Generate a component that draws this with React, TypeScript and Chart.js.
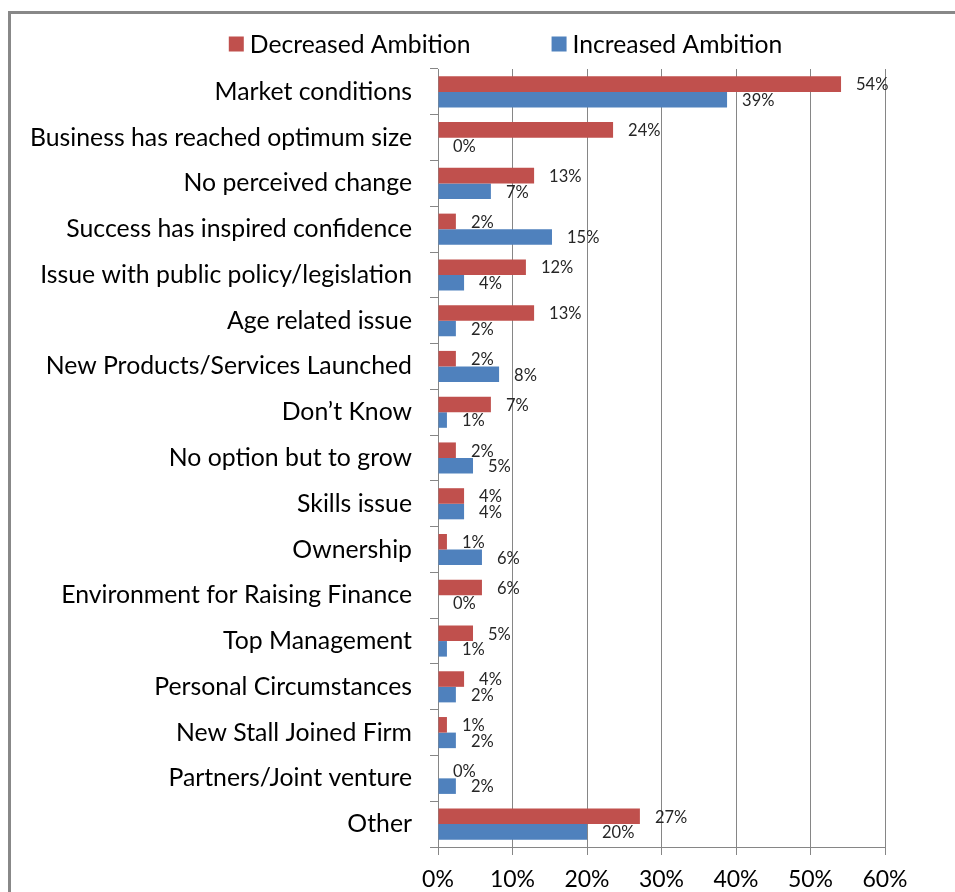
import React, { useEffect, useRef } from "react";
import { Chart, registerables } from "chart.js";

Chart.register(...registerables);

const categories: string[] = [
  "Market conditions",
  "Business has reached optimum size",
  "No perceived change",
  "Success has inspired confidence",
  "Issue with public policy/legislation",
  "Age related issue",
  "New Products/Services Launched",
  "Don\u2019t Know",
  "No option but to grow",
  "Skills issue",
  "Ownership",
  "Environment for Raising Finance",
  "Top Management",
  "Personal Circumstances",
  "New Stall Joined Firm",
  "Partners/Joint venture",
  "Other",
];

const decreasedAmbition: number[] = [54.1, 23.5, 12.9, 2.4, 11.8, 12.9, 2.4, 7.1, 2.4, 3.5, 1.2, 5.9, 4.7, 3.5, 1.2, 0, 27.1];
const increasedAmbition: number[] = [38.8, 0, 7.1, 15.3, 3.5, 2.4, 8.2, 1.2, 4.7, 3.5, 5.9, 0, 1.2, 2.4, 2.4, 2.4, 20.0];

const seriesNames: string[] = ["Decreased Ambition", "Increased Ambition"];
const seriesColors: string[] = ["#C0504D", "#4F81BD"];

const xMin = 0;
const xMax = 60;
const xStep = 10;

const FONT = "Lato, 'Open Sans', sans-serif";

const dataLabelPlugin = {
  id: "dataLabels",
  afterDatasetsDraw(chart: any) {
    const ctx = chart.ctx;
    ctx.save();
    ctx.font = `16.5px ${FONT}`;
    ctx.fillStyle = "#262626";
    ctx.textAlign = "left";
    ctx.textBaseline = "middle";
    chart.data.datasets.forEach((ds: any, di: number) => {
      const meta = chart.getDatasetMeta(di);
      meta.data.forEach((el: any, i: number) => {
        const v = ds.data[i];
        ctx.fillText(`${Math.round(v)}%`, el.x + 15, el.y + 1);
      });
    });
    ctx.restore();
  },
};

const legendPlugin = {
  id: "customLegend",
  afterDraw(chart: any) {
    const ctx = chart.ctx;
    ctx.save();
    ctx.font = `24.7px ${FONT}`;
    const box = 15;
    const gapBoxText = 6;
    const gapItems = 81;
    const items = chart.data.datasets.map((ds: any) => ({
      label: ds.label,
      color: ds.backgroundColor,
      w: ctx.measureText(ds.label).width,
    }));
    let total = 0;
    items.forEach((it: any, i: number) => {
      total += box + gapBoxText + it.w + (i > 0 ? gapItems : 0);
    });
    const center = (chart.chartArea.left + chart.chartArea.right) / 2 - 156;
    let x = center - total / 2;
    const cy = 30;
    ctx.textBaseline = "middle";
    ctx.textAlign = "left";
    items.forEach((it: any) => {
      ctx.fillStyle = it.color;
      ctx.fillRect(x, cy - box / 2, box, box);
      x += box + gapBoxText;
      ctx.fillStyle = "#000";
      ctx.fillText(it.label, x, cy + 1);
      x += it.w + gapItems;
    });
    ctx.restore();
  },
};

export default function App() {
  const ref = useRef<HTMLCanvasElement>(null);
  useEffect(() => {
    if (!ref.current) return;
    const chart = new Chart(ref.current, {
      type: "bar",
      data: {
        labels: categories,
        datasets: [
          {
            label: seriesNames[0],
            data: decreasedAmbition,
            backgroundColor: seriesColors[0],
            categoryPercentage: 0.68,
            barPercentage: 1,
          },
          {
            label: seriesNames[1],
            data: increasedAmbition,
            backgroundColor: seriesColors[1],
            categoryPercentage: 0.68,
            barPercentage: 1,
          },
        ],
      },
      options: {
        indexAxis: "y",
        responsive: false,
        animation: false,
        layout: { padding: { top: 55, right: 56, left: 0, bottom: 0 } },
        plugins: {
          legend: { display: false },
          tooltip: { enabled: false },
        },
        scales: {
          x: {
            min: xMin,
            max: xMax,
            ticks: {
              stepSize: xStep,
              callback: (v: any) => `${v}%`,
              font: { family: FONT, size: 23 },
              color: "#000",
              padding: 11,
              maxRotation: 0,
            },
            grid: { color: "#868686", tickLength: 8, lineWidth: 1 },
            border: { color: "#868686" },
            afterFit: (s: any) => {
              s.height = 45;
            },
          },
          y: {
            ticks: {
              font: { family: FONT, size: 24.8 },
              color: "#000",
              padding: 18,
              autoSkip: false,
            },
            grid: { offset: true, drawOnChartArea: false, color: "#868686", tickLength: 8 },
            border: { color: "#868686" },
            afterFit: (s: any) => {
              s.width = 427;
            },
          },
        },
      },
      plugins: [dataLabelPlugin, legendPlugin],
    } as any);
    return () => chart.destroy();
  }, []);

  return (
    <div
      style={{
        position: "fixed",
        left: 0,
        top: 0,
        width: 955,
        height: 892,
        overflow: "hidden",
        background: "#fff",
      }}
    >
      <div style={{ position: "absolute", left: 8, top: 11, width: 947, height: 3, background: "#888" }} />
      <div style={{ position: "absolute", left: 8, top: 11, width: 3, height: 881, background: "#888" }} />
      <canvas
        ref={ref}
        width={930}
        height={878}
        style={{ position: "absolute", left: 11, top: 14, width: 930, height: 878, display: "block" }}
      />
    </div>
  );
}
